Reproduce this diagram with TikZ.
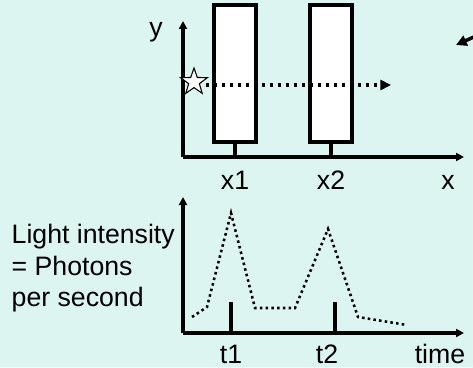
\documentclass[tikz,border=0pt]{standalone}
\usepackage{fontspec}
\setmainfont{Liberation Sans}
\usetikzlibrary{shapes.geometric, arrows.meta}
\definecolor{bgcyan}{RGB}{221,245,240}

\begin{document}
\begin{tikzpicture}[x=0.75pt, y=-0.75pt, font=\fontsize{20}{24}\selectfont]
	\fill[bgcyan] (0,0) rectangle (473,367);
	\useasboundingbox (0,0) rectangle (473,367);
	% upper picture: two slits and a photon
	\coordinate (o1) at (183,157);
	\coordinate (ytop) at (183,21);
	\coordinate (xend) at (464,157);
	\draw[line width=2.8pt, -{Triangle[length=6pt,width=6pt]}] (o1) -- (ytop);
	\draw[line width=2.8pt, -{Triangle[length=6pt,width=6pt]}] (o1) -- (xend);
	\draw[line width=2.4pt, fill=white] (214,5) rectangle (256,142);
	\draw[line width=2.4pt, fill=white] (310,5) rectangle (352,142);
	\draw[line width=2.6pt] (235,142) -- (235,157);
	\draw[line width=2.6pt] (331,142) -- (331,157);
	\node[star, star points=5, star point ratio=2.5, minimum size=21pt, inner sep=0pt, draw, fill=white, line width=0.8pt] (photon) at (194,82) {};
	\coordinate (ray) at (391,85);
	\draw[line width=2.4pt, dash pattern=on 2.4pt off 3.6pt, -{Triangle[length=8pt,width=7.5pt]}] (206,85) -- (ray);
	\coordinate (pin) at (456,45);
	\draw[line width=2.6pt, -{Triangle[length=8pt,width=8pt]}] (476,36) -- (pin);
	\node[anchor=base] (ylab) at (156,37) {y};
	\node[anchor=base] (x1) at (235,189) {x1};
	\node[anchor=base] (x2) at (331,189) {x2};
	\node[anchor=base] (xlab) at (448,189) {x};
	% lower picture: light intensity over time
	\coordinate (o2) at (183,333);
	\coordinate (itop) at (183,197);
	\coordinate (tend) at (464,333);
	\draw[line width=2.8pt, -{Triangle[length=6pt,width=6pt]}] (o2) -- (itop);
	\draw[line width=2.8pt, -{Triangle[length=6pt,width=6pt]}] (o2) -- (tend);
	\draw[line width=2.6pt] (231,302) -- (231,333);
	\draw[line width=2.6pt] (335,302) -- (335,333);
	\draw[line width=1.9pt, dash pattern=on 1.9pt off 2.4pt] (192,317) -- (207,307) -- (231,213) -- (255,308) -- (295,308) -- (328,229) -- (358,317) -- (407,325);
	\node[anchor=base] (t1) at (231,363) {t1};
	\node[anchor=base] (t2) at (327,363) {t2};
	\node[anchor=base] (time) at (440,363) {time};
	\node[anchor=base west] (intensity) at (7,243) {Light intensity};
	\node[anchor=base west] (photons) at (7,275) {= Photons};
	\node[anchor=base west] (persec) at (7,306) {per second};
\end{tikzpicture}
\end{document}
